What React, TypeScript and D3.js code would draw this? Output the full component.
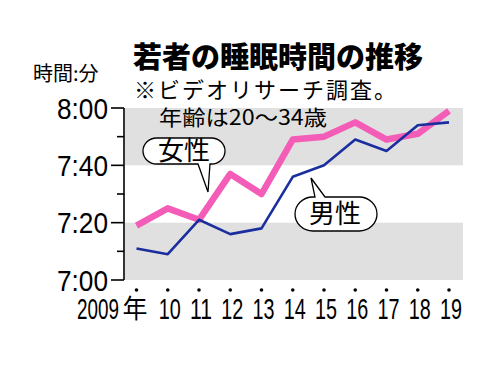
import React from 'react';
import * as d3 from 'd3';

const years = [2009, 2010, 2011, 2012, 2013, 2014, 2015, 2016, 2017, 2018, 2019];
const yearLabels = ['2009', '10', '11', '12', '13', '14', '15', '16', '17', '18', '19'];
// minutes past midnight (7:00 = 420)
const female = [439, 445, 441, 457, 450, 469, 470, 475, 469, 471, 479];
const male = [431, 429, 441, 436, 438, 456, 460, 469, 465, 474, 475];
const majorTicks = [420, 440, 460, 480];
const minorTicks = [430, 450, 470];
const tickLabels = ['7:00', '7:20', '7:40', '8:00'];
const bands = [[420, 440], [460, 480]];

const NUM = "'Liberation Sans', Arial, sans-serif";
const JP = "'Noto Sans CJK JP', sans-serif";

export default function App() {
  const width = 503;
  const height = 368;

  const x = d3.scaleLinear().domain([2009, 2019]).range([136.5, 449]);
  const y = d3.scaleLinear().domain([420, 480]).range([280, 108]);
  const plotLeft = 125;
  const plotRight = 463;
  const axisX = 124;

  const line = d3.line<number>()
    .x((_, i) => x(years[i]))
    .y((d) => y(d));

  // speech bubble outline with a tail on the top or bottom edge
  const bubble = (x0: number, x1: number, y0: number, y1: number,
    tailA: number, tailB: number, tip: [number, number], top: boolean) => {
    const r = (y1 - y0) / 2;
    const rx = r * 1.05;
    let p = `M${x0 + rx},${y0}`;
    if (top) p += `H${tailA}L${tip[0]},${tip[1]}L${tailB},${y0}`;
    p += `H${x1 - rx}A${rx},${r} 0 0 1 ${x1 - rx},${y1}`;
    if (!top) p += `H${tailB}L${tip[0]},${tip[1]}L${tailA},${y1}`;
    p += `H${x0 + rx}A${rx},${r} 0 0 1 ${x0 + rx},${y0}Z`;
    return p;
  };

  return (
    <svg width={width} height={height} viewBox={`0 0 ${width} ${height}`}
      style={{ position: 'absolute', left: 0, top: 0, background: '#fff' }}>
      {/* titles */}
      <text x={133} y={68} fontFamily={JP} fontWeight={900} fontSize={29}>若者の睡眠時間の推移</text>
      <text x={33} y={81} fontFamily={JP} fontSize={20}>時間:分</text>
      <text x={134} y={98} fontFamily={JP} fontSize={22} letterSpacing={2}>※ビデオリサーチ調査。</text>

      {/* bands */}
      {bands.map(([a, b], i) => (
        <rect key={i} x={plotLeft} y={y(b)} width={plotRight - plotLeft} height={y(a) - y(b)} fill="#e0e0e0" />
      ))}

      <text x={159} y={125} fontFamily={JP} fontSize={21} textLength={168} lengthAdjust="spacingAndGlyphs">年齢は20～34歳</text>

      {/* y axis */}
      <line x1={axisX} x2={axisX} y1={y(480)} y2={y(420)} stroke="#000" strokeWidth={1.6} />
      {majorTicks.map((t, i) => (
        <g key={t}>
          <line x1={111} x2={axisX} y1={y(t)} y2={y(t)} stroke="#000" strokeWidth={1.6} />
          <text x={57} y={y(t) + 10.5} fontFamily={NUM} fontSize={30}
            textLength={51} lengthAdjust="spacingAndGlyphs">{tickLabels[i]}</text>
        </g>
      ))}
      {minorTicks.map((t) => (
        <line key={t} x1={117} x2={axisX} y1={y(t)} y2={y(t)} stroke="#000" strokeWidth={1.6} />
      ))}

      {/* x axis dots and labels */}
      {years.map((yr, i) => (
        <g key={yr}>
          <circle cx={x(yr)} cy={290} r={1.8} fill="#000" />
          {i === 0 ? (
            <>
              <text x={x(yr) - 59.5} y={319} fontFamily={NUM} fontSize={30}
                textLength={42} lengthAdjust="spacingAndGlyphs">{yearLabels[i]}</text>
              <text x={x(yr) - 14} y={318} fontFamily={JP} fontSize={26}
                textLength={25} lengthAdjust="spacingAndGlyphs">年</text>
            </>
          ) : (
            <text x={x(yr) - 9} y={319} fontFamily={NUM} fontSize={30}
              textLength={22} lengthAdjust="spacingAndGlyphs">{yearLabels[i]}</text>
          )}
        </g>
      ))}

      {/* lines */}
      <path d={line(female) || ''} fill="none" stroke="#f45db7" strokeWidth={6.5} strokeLinejoin="round" />
      <path d={line(male) || ''} fill="none" stroke="#1a2e9e" strokeWidth={2.6} strokeLinejoin="round" />

      {/* callouts */}
      <path d={bubble(143, 225, 138, 164, 198, 210, [208, 192], false)} fill="#fff" stroke="#000" strokeWidth={1.3} />
      <text x={184} y={160} textAnchor="middle" fontFamily={JP} fontSize={26}>女性</text>
      <path d={bubble(295, 377, 197, 231, 315, 325, [311, 178], true)} fill="#fff" stroke="#000" strokeWidth={1.3} />
      <text x={335} y={223} textAnchor="middle" fontFamily={JP} fontSize={26}>男性</text>
    </svg>
  );
}
